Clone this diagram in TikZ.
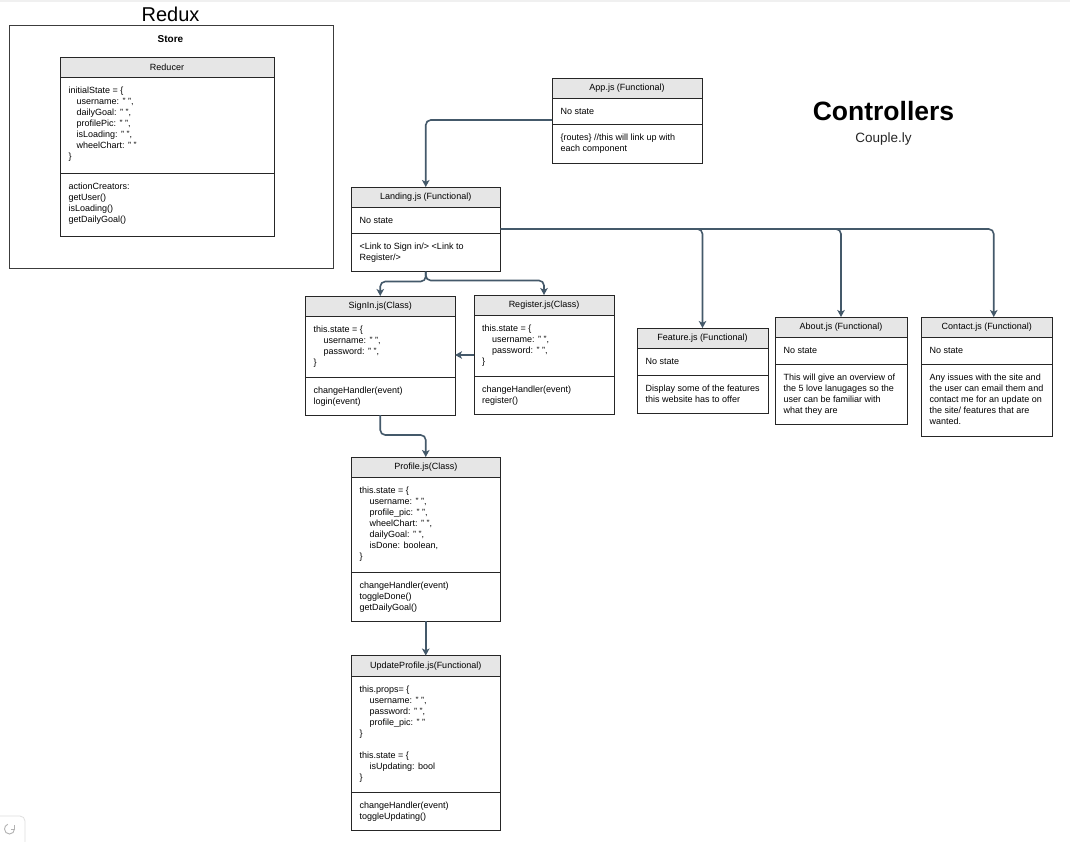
\documentclass[tikz,border=0pt]{standalone}
\usepackage{fontspec}
\setmainfont{Liberation Sans}
\usetikzlibrary{calc,arrows.meta}
\definecolor{hdrc}{HTML}{E6E6E6}
\definecolor{bc}{HTML}{262626}
\definecolor{connc}{HTML}{44596A}
\newcommand\ind{\hspace*{10pt}}
\newcommand\indr{\hspace*{8pt}}
\newcommand\umlbox[8]{%
  \node[hdr, anchor=north west, minimum width=#3pt-#2pt, minimum height=#5pt-#4pt] (#1h) at (#2,#4) {#8};
  \node[sec, anchor=north west, minimum width=#3pt-#2pt, minimum height=#6pt-#5pt] (#1a) at (#2,#5) {};
  \node[sec, anchor=north west, minimum width=#3pt-#2pt, minimum height=#7pt-#6pt] (#1b) at (#2,#6) {};
}
\newcommand\sectxt[3][8.5]{\node[txt] (#2t) at ($(#2.north west)+(#1,8.3)$) {\strut #3};}
\tikzset{
  hdr/.style={draw=bc, fill=hdrc, line width=1pt, inner sep=0pt, outer sep=0pt, font=\fontsize{9}{11}\selectfont},
  sec/.style={draw=bc, fill=white, line width=1pt, inner sep=0pt, outer sep=0pt},
  txt/.style={font=\fontsize{9}{11}\selectfont, align=left, inner sep=0pt, anchor=north west},
  conn/.style={draw=connc, line width=1.6pt, rounded corners=5pt, -{Stealth[length=7pt,width=7.5pt,inset=1.8pt]}},
}
\begin{document}
\begin{tikzpicture}[x=1pt,y=-1pt]
\useasboundingbox (0,0) rectangle (1070,841);
\fill[white] (0,0) rectangle (1070,841);
\fill[gray!12] (0,0) rectangle (1070,2);

% Redux / Store
\node[font=\fontsize{20}{24}\selectfont] (redux) at (170.5,14) {Redux};
\node[draw=bc!90, line width=1pt, inner sep=0pt, outer sep=0pt, anchor=north west, minimum width=324pt, minimum height=243pt] (store) at (9,25) {};
\node[font=\bfseries\fontsize{10}{12}\selectfont] (storet) at (170.5,39) {Store};

\umlbox{red}{60}{274}{57}{77}{173}{236}{Reducer}
\sectxt{reda}{initialState = \{\\ \indr username: " ",\\ \indr dailyGoal: " ",\\ \indr profilePic: " ",\\ \indr isLoading: " ",\\ \indr wheelChart: " "\\ \}}
\sectxt{redb}{actionCreators:\\ getUser()\\ isLoading()\\ getDailyGoal()}

% Controllers title
\node[font=\bfseries\fontsize{26.5}{30}\selectfont] (ctrl) at (883.5,111) {Controllers};
\node[font=\fontsize{13.5}{16}\selectfont, text=black!85] (couple) at (883.5,139.5) {Couple.ly};

% App
\umlbox{app}{552}{702}{78}{98}{124}{163}{App.js (Functional)}
\sectxt{appa}{No state}
\sectxt{appb}{\{routes\} //this will link up with\\ each component}

% Landing
\umlbox{land}{351}{500.5}{187}{207}{233}{271.5}{Landing.js (Functional)}
\sectxt{landa}{No state}
\sectxt{landb}{<Link to Sign in/> <Link to\\ Register/>}

% SignIn
\umlbox{sign}{305.5}{455}{296}{316}{377}{415}{SignIn.js(Class)}
\sectxt[8]{signa}{this.state = \{\\ \ind username: " ",\\ \ind password: " ",\\ \}}
\sectxt[8]{signb}{changeHandler(event)\\ login(event)}

% Register
\umlbox{reg}{474}{614}{295}{315}{376}{414}{Register.js(Class)}
\sectxt[8]{rega}{this.state = \{\\ \ind username: " ",\\ \ind password: " ",\\ \}}
\sectxt[8]{regb}{changeHandler(event)\\ register()}

% Feature
\umlbox{feat}{637}{768}{328}{348}{375}{413}{Feature.js (Functional)}
\sectxt{feata}{No state}
\sectxt{featb}{Display some of the features\\ this website has to offer}

% About
\umlbox{about}{775}{907}{317}{337}{364}{424.5}{About.js (Functional)}
\sectxt{abouta}{No state}
\sectxt{aboutb}{This will give an overview of\\ the 5 love lanugages so the\\ user can be familiar with\\ what they are}

% Contact
\umlbox{cont}{921}{1052.5}{317}{337}{364}{436}{Contact.js (Functional)}
\sectxt{conta}{No state}
\sectxt{contb}{Any issues with the site and\\ the user can email them and\\ contact me for an update on\\ the site/ features that are\\ wanted.}

% Profile
\umlbox{prof}{351}{500.5}{457}{477}{572}{621}{Profile.js(Class)}
\sectxt{profa}{this.state = \{\\ \ind username: " ",\\ \ind profile\_pic: " ",\\ \ind wheelChart: " ",\\ \ind dailyGoal: " ",\\ \ind isDone: boolean,\\ \}}
\sectxt{profb}{changeHandler(event)\\ toggleDone()\\ getDailyGoal()}

% UpdateProfile
\umlbox{upd}{351}{500.5}{655.5}{676}{792.5}{830}{UpdateProfile.js(Functional)}
\sectxt{upda}{this.props= \{\\ \ind username: " ",\\ \ind password: " ",\\ \ind profile\_pic: " "\\ \}\\ \strut\\ this.state = \{\\ \ind isUpdating: bool\\ \}}
\sectxt{updb}{changeHandler(event)\\ toggleUpdating()}

% Connectors
\coordinate (as) at ($(appa.south west)+(0,-4)$);
\draw[conn] (as) -| (landh.north);
\coordinate (ls) at ($(landa.south east)+(0,-4)$);
\coordinate (ce) at ($(conth.north)+(7,0)$);
\draw[conn] (ls) -| (feath.north);
\draw[conn] (ls) -| (abouth.north);
\draw[conn] (ls) -| (ce);
\draw[conn] (landb.south) -- ++(0,10) -| (signh.north);
\draw[conn] (landb.south) -- ++(0,9) -| (regh.north);
\coordinate (rs) at ($(rega.west)+(0,9.5)$);
\draw[conn] (rs) -- (rs -| signa.east);
\draw[conn] (signb.south) -- ++(0,20) -| (profh.north);
\draw[conn] (profb.south) -- (updh.north);

% bottom-left widget
\draw[gray!25, line width=0.8pt, rounded corners=5pt, fill=white] (-6,816) rectangle (25,850);
\coordinate (wc) at (9.5,829);
\draw[gray!60, line width=0.9pt] ($(wc)+(5,0)$) arc[start angle=0, end angle=-250, radius=5pt];
\draw[gray!60, line width=0.9pt] ($(wc)+(5,-4)$) -- ($(wc)+(5,0.3)$) -- ($(wc)+(1,0.3)$);
\end{tikzpicture}
\end{document}
